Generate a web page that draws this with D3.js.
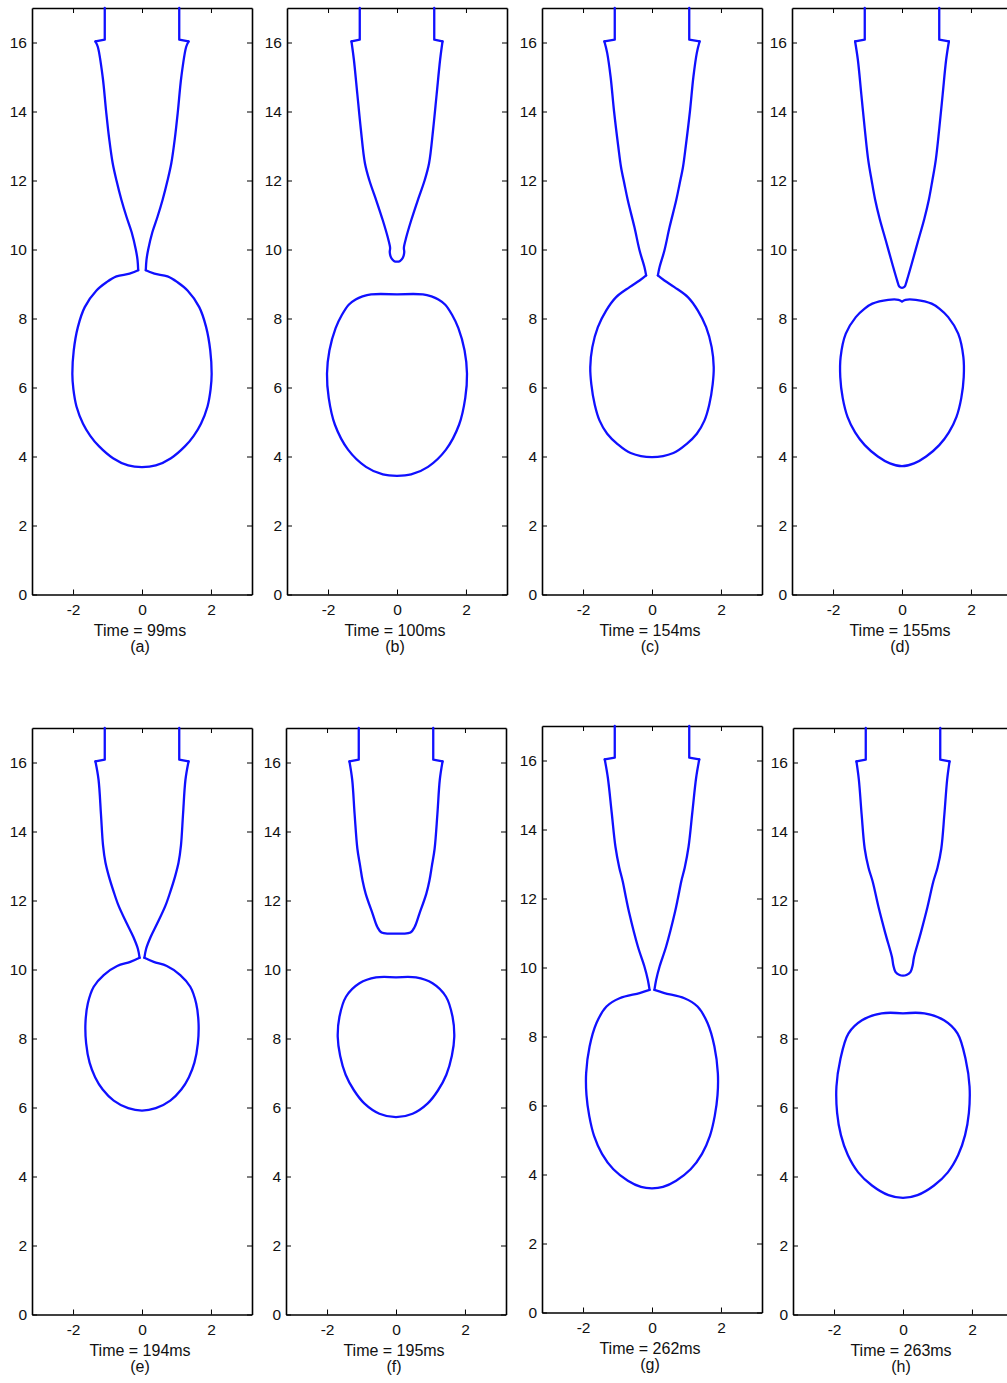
<!DOCTYPE html>
<html lang="en">
<head>
<meta charset="UTF-8">
<script src="https://d3js.org/d3.v7.min.js"></script>
<title>Drop pinch-off</title>
<style>
  body { margin: 0; background: #fff; }
  svg { display: block; font-family: "Liberation Sans", Arial, sans-serif; }
  .axis path, .axis line { stroke: #000; }
  .axis path { stroke-width: 1.6; }
  .axis text { font-size: 15.5px; fill: #111; font-family: "Liberation Sans", Arial, sans-serif; }
</style>
</head>
<body>
<svg width="1007" height="1383"></svg>
<script>
// labels
const times = ["99ms", "100ms", "154ms", "155ms", "194ms", "195ms", "262ms", "263ms"];
const letters = ["(a)", "(b)", "(c)", "(d)", "(e)", "(f)", "(g)", "(h)"];
const xTicks = [-2, 0, 2];
const yTicks = [0, 2, 4, 6, 8, 10, 12, 14, 16];

// right half of each profile as [r, z]; the left half is its mirror
const nozzle = [[1.08, 17], [1.08, 16.08]];

const coneA = [[1.35,16.03],[1.28,15.87],[1.14,15.0],[1.04,14.0],[0.95,13.2],[0.85,12.5],[0.74,12.0],[0.6,11.45],[0.45,10.95],[0.3,10.5],[0.18,10.0],[0.13,9.7],[0.11,9.4]];
const dropA = [[0.36,9.3],[0.74,9.22],[1.03,9.05],[1.32,8.81],[1.66,8.33],[1.86,7.75],[1.98,7.07],[2.02,6.4],[1.99,5.95],[1.9,5.45],[1.71,4.95],[1.5,4.6],[1.25,4.3],[0.84,3.95],[0.4,3.74],[0,3.69]];

const coneB = [[1.32,16.03],[1.25,15.5],[1.15,14.5],[1.05,13.5],[0.93,12.5],[0.8,12.0],[0.6,11.42],[0.41,10.84],[0.27,10.36],[0.2,10.05],[0.21,9.92],[0.17,9.76],[0.09,9.67],[0,9.65]];
const dropB = [[0,8.7],[0.75,8.7],[1.0,8.64],[1.2,8.55],[1.4,8.4],[1.6,8.1],[1.78,7.72],[1.96,7.07],[2.03,6.4],[1.98,5.7],[1.8,4.92],[1.42,4.2],[0.9,3.7],[0.41,3.48],[0,3.44]];

const coneC = [[1.38,16.03],[1.3,15.7],[1.2,15.0],[1.1,14.0],[0.98,13.0],[0.9,12.4],[0.8,11.9],[0.7,11.42],[0.51,10.65],[0.36,9.97],[0.22,9.49],[0.17,9.25]];
const dropC = [[0.36,9.1],[0.65,8.91],[1.04,8.62],[1.33,8.23],[1.57,7.75],[1.73,7.17],[1.79,6.59],[1.76,6.1],[1.66,5.5],[1.52,5.04],[1.3,4.66],[1.0,4.36],[0.62,4.1],[0,3.98]];

const coneD = [[1.36,16.03],[1.28,15.5],[1.18,14.5],[1.08,13.5],[0.98,12.6],[0.88,12.0],[0.78,11.45],[0.65,10.9],[0.47,10.26],[0.28,9.58],[0.14,9.1],[0.08,8.93],[0,8.89]];
const dropD = [[0,8.49],[0.1,8.54],[0.4,8.54],[0.86,8.43],[1.1,8.27],[1.34,8.04],[1.63,7.56],[1.78,6.88],[1.79,6.3],[1.72,5.7],[1.58,5.15],[1.36,4.7],[1.08,4.33],[0.7,4.0],[0.35,3.8],[0,3.72]];

const coneE = [[1.35,16.03],[1.26,15.5],[1.19,14.5],[1.13,13.6],[1.06,13.1],[0.96,12.7],[0.82,12.25],[0.68,11.85],[0.44,11.33],[0.25,10.94],[0.12,10.6],[0.07,10.34]];
const dropE = [[0.34,10.22],[0.72,10.1],[1.11,9.84],[1.4,9.5],[1.57,9.02],[1.64,8.44],[1.62,7.86],[1.52,7.3],[1.36,6.88],[1.14,6.52],[0.82,6.2],[0.4,5.98],[0,5.91]];

const coneF = [[1.35,16.03],[1.27,15.5],[1.2,14.5],[1.12,13.5],[1.04,13.0],[0.97,12.58],[0.88,12.2],[0.68,11.62],[0.54,11.23],[0.42,11.07],[0.2,11.04],[0,11.04]];
const dropF = [[0,9.77],[0.58,9.77],[1.06,9.6],[1.45,9.21],[1.64,8.63],[1.69,8.05],[1.62,7.5],[1.46,6.95],[1.22,6.5],[0.92,6.12],[0.48,5.82],[0,5.72]];

const coneG = [[1.37,16.03],[1.28,15.5],[1.17,14.5],[1.06,13.5],[0.95,12.9],[0.85,12.5],[0.75,12.0],[0.66,11.58],[0.41,10.61],[0.22,10.03],[0.12,9.64],[0.07,9.35]];
const dropG = [[0.36,9.26],[0.94,9.11],[1.32,8.87],[1.61,8.39],[1.81,7.71],[1.91,6.93],[1.9,6.3],[1.82,5.7],[1.68,5.12],[1.45,4.6],[1.12,4.15],[0.7,3.82],[0.32,3.64],[0,3.6]];

const coneH = [[1.35,16.03],[1.28,15.5],[1.2,14.5],[1.11,13.5],[1.0,12.95],[0.88,12.55],[0.71,11.81],[0.51,11.04],[0.32,10.36],[0.28,10.12],[0.22,9.93],[0.1,9.84],[0,9.82]];
const dropH = [[0,8.73],[0.62,8.73],[1.19,8.53],[1.58,8.15],[1.82,7.38],[1.93,6.61],[1.91,5.84],[1.8,5.2],[1.6,4.62],[1.3,4.12],[0.9,3.74],[0.42,3.46],[0,3.38]];

const cones = [coneA, coneB, coneC, coneD, coneE, coneF, coneG, coneH];
const drops = [dropA, dropB, dropC, dropD, dropE, dropF, dropG, dropH];
const joined = [true, false, true, false, true, false, true, false];

// layout
const panelLeft = [32, 287, 542, 792, 32, 286, 542, 793];
const panelTop = [8, 8, 8, 8, 728, 728, 726, 728];
const W = 220, H = 586.5;

const svg = d3.select("svg");
svg.append("rect").attr("width", 1007).attr("height", 1383).attr("fill", "#fff");

const x = d3.scaleLinear().domain([-3.19, 3.19]).range([0, W]);
const y = d3.scaleLinear().domain([0, 17]).range([H, 0]);

const smooth = d3.line()
  .x(d => x(d[0]))
  .y(d => y(d[1]))
  .curve(d3.curveCatmullRom.alpha(0.5));
const straight = d3.line()
  .x(d => x(d[0]))
  .y(d => y(d[1]));

const mirror = pts => pts.map(p => [-p[0], p[1]]);
const rev = pts => pts.slice().reverse();

times.forEach((t, i) => {
  const g = svg.append("g").attr("transform", "translate(" + panelLeft[i] + "," + panelTop[i] + ")");

  // axes box with inward ticks
  g.append("g").attr("class", "axis")
    .call(d3.axisLeft(y).tickValues(yTicks).tickSize(-5).tickSizeOuter(0).tickPadding(5).tickFormat(d => String(d)));
  g.append("g").attr("class", "axis").attr("transform", "translate(" + W + ",0)")
    .call(d3.axisRight(y).tickValues(yTicks).tickSize(-5).tickSizeOuter(0).tickFormat(""));
  g.append("g").attr("class", "axis")
    .call(d3.axisTop(x).tickValues(xTicks).tickSize(-5).tickSizeOuter(0).tickFormat(""));
  g.append("g").attr("class", "axis").attr("transform", "translate(0," + H + ")")
    .call(d3.axisBottom(x).tickValues(xTicks).tickSize(-5).tickSizeOuter(0).tickPadding(9).tickFormat(d => String(d)));

  const cone = cones[i], drop = drops[i];
  const noz = nozzle.concat([cone[0]]);
  const straightParts = [noz, mirror(noz)];
  let smoothParts;
  if (joined[i]) {
    const neck = cone[cone.length - 1];
    const half = [neck].concat(drop);
    smoothParts = [cone, mirror(cone), mirror(half).concat(rev(half).slice(1))];
  } else {
    smoothParts = [mirror(cone).concat(rev(cone).slice(1)), drop.concat(rev(mirror(drop)).slice(1))];
  }

  const style = sel => sel
    .attr("fill", "none")
    .attr("stroke", "#1010ff")
    .attr("stroke-width", 2.3)
    .attr("stroke-linejoin", "round")
    .attr("stroke-linecap", "round");

  g.selectAll("path.noz").data(straightParts).enter().append("path")
    .attr("class", "noz").attr("d", straight).call(style);
  g.selectAll("path.shape").data(smoothParts).enter().append("path")
    .attr("class", "shape").attr("d", smooth).call(style);

  g.append("text")
    .attr("x", x(0) - 2).attr("y", H + 41)
    .attr("text-anchor", "middle")
    .style("font-size", "16px").attr("fill", "#111")
    .text("Time = " + t);
  g.append("text")
    .attr("x", x(0) - 2).attr("y", H + 57.5)
    .attr("text-anchor", "middle")
    .style("font-size", "16px").attr("fill", "#111")
    .text(letters[i]);
});
</script>
</body>
</html>
